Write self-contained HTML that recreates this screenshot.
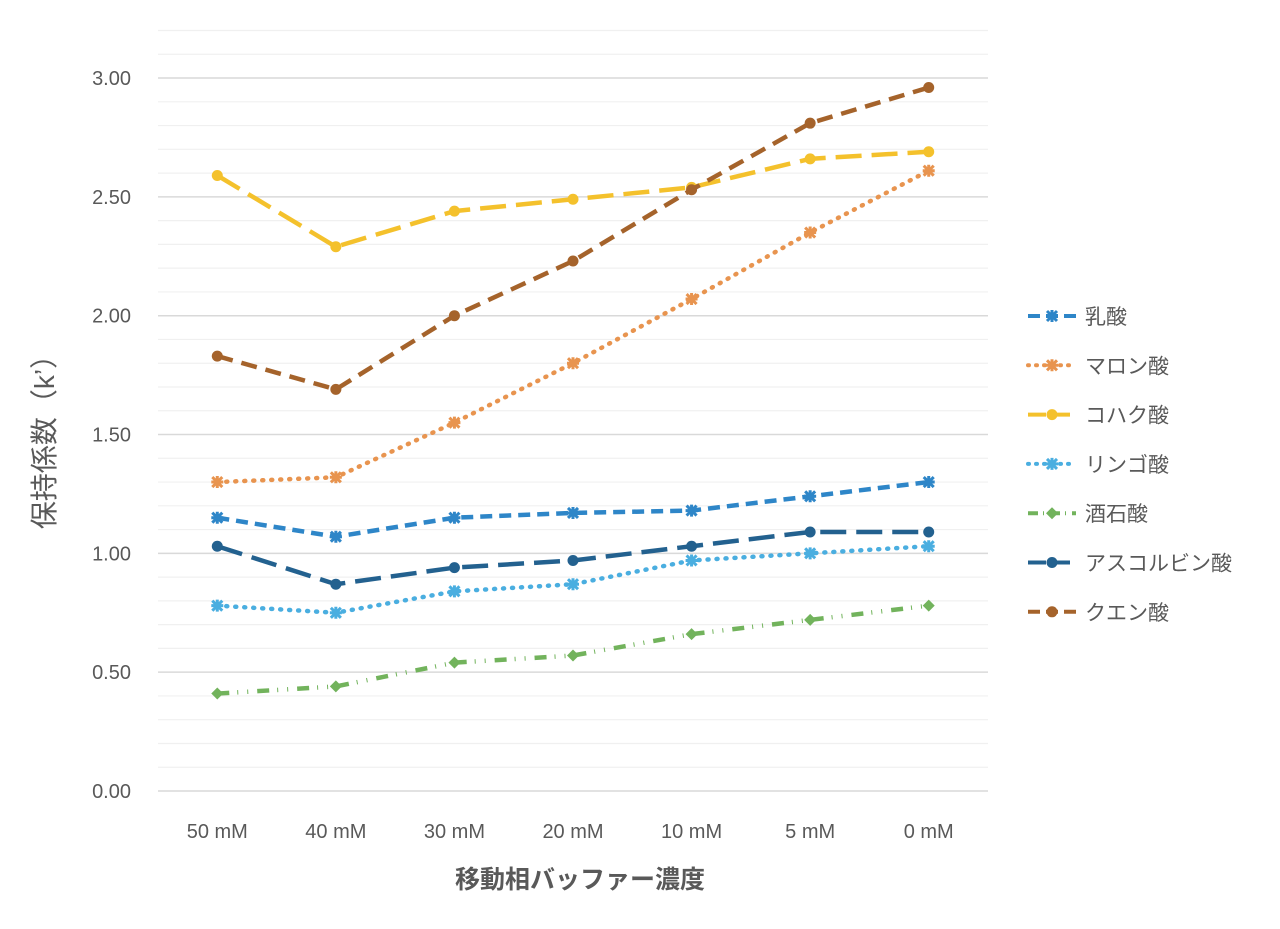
<!DOCTYPE html>
<html><head><meta charset="utf-8"><style>
body{margin:0;background:#fff}
svg{font-family:"Liberation Sans","Noto Sans CJK JP",sans-serif}
</style></head><body>
<svg id="chart" width="1280" height="924" viewBox="0 0 1280 924" xmlns="http://www.w3.org/2000/svg">
<g id="grid"></g>
<g id="yticks"></g>
<g id="xticks"></g>
<g id="series"></g>
<g id="legend"></g>
<text transform="translate(54,435) rotate(-90)" text-anchor="middle" font-size="28" fill="#595959">保持係数（k’）</text>
<text x="580" y="888" text-anchor="middle" font-size="25" font-weight="bold" fill="#595959">移動相バッファー濃度</text>
</svg>
<script>
const categories=["50 mM","40 mM","30 mM","20 mM","10 mM","5 mM","0 mM"];
const yTickLabels=["0.00","0.50","1.00","1.50","2.00","2.50","3.00"];
const seriesNames=["乳酸","マロン酸","コハク酸","リンゴ酸","酒石酸","アスコルビン酸","クエン酸"];
const lactic=[1.15,1.07,1.15,1.17,1.18,1.24,1.30];
const malonic=[1.30,1.32,1.55,1.80,2.07,2.35,2.61];
const succinic=[2.59,2.29,2.44,2.49,2.54,2.66,2.69];
const malic=[0.78,0.75,0.84,0.87,0.97,1.00,1.03];
const tartaric=[0.41,0.44,0.54,0.57,0.66,0.72,0.78];
const ascorbic=[1.03,0.87,0.94,0.97,1.03,1.09,1.09];
const citric=[1.83,1.69,2.00,2.23,2.53,2.81,2.96];
const allSeries=[lactic,malonic,succinic,malic,tartaric,ascorbic,citric];
const colors=["#2e86c8","#e8944f","#f4c12c","#4aaee0","#72b35c","#23618f","#a5632b"];
const dashes=["12,7","1,8","26,10","1,8","12,8,1,9,1,9","26,10","16,9"];
const markers=["star","star","circle","star","diamond","circle","circle"];
const NS="http://www.w3.org/2000/svg";
const x0=158,x1=988,yBase=791,yMax=3.2,yTop=30.5;
function xs(i){return x0+(x1-x0)*(i+0.5)/categories.length;}
function ys(v){return yBase-(yBase-yTop)*v/yMax;}
function mk(t,a,p){const e=document.createElementNS(NS,t);for(const k in a)e.setAttribute(k,a[k]);p.appendChild(e);return e;}
const grid=document.getElementById('grid');
for(let k=1;k<=32;k++){const v=k/10;const major=k%5===0;
 const l=mk('line',{x1:x0,x2:x1,y1:ys(v),y2:ys(v),stroke:major?'#d9d9d9':'#f0f0f0','stroke-width':major?1.5:1.2},grid);
 
 }
const ax=mk('line',{x1:x0,x2:x1,y1:yBase,y2:yBase,stroke:'#d9d9d9','stroke-width':1.5},grid);


const yt=document.getElementById('yticks');
yTickLabels.forEach((s,i)=>{const t=mk('text',{x:131,y:ys(parseFloat(s))+7,'text-anchor':'end','font-size':20,fill:'#595959'},yt);t.textContent=s;
 
 });
const xt=document.getElementById('xticks');
categories.forEach((s,i)=>{const t=mk('text',{x:xs(i),y:838,'text-anchor':'middle','font-size':20,fill:'#595959'},xt);t.textContent=s;
 
 });
function marker(type,cx,cy,c,p){let e;
 if(type==='circle')e=mk('circle',{cx:cx,cy:cy,r:5.5,fill:c},p);
 else if(type==='diamond')e=mk('path',{d:`M${cx},${cy-6}L${cx+6},${cy}L${cx},${cy+6}L${cx-6},${cy}Z`,fill:c},p);
 else e=mk('path',{d:`M${cx-5},${cy-5}L${cx+5},${cy+5}M${cx+5},${cy-5}L${cx-5},${cy+5}M${cx},${cy-6}L${cx},${cy+6}M${cx-6},${cy}L${cx+6},${cy}`,stroke:c,'stroke-width':3},p);
 return e;}
const sg=document.getElementById('series');
allSeries.forEach((d,si)=>{const g=mk('g',{},sg);
 
 
 const pts=d.map((v,i)=>xs(i)+','+ys(v)).join(' ');
 const pl=mk('polyline',{points:pts,fill:'none',stroke:colors[si],'stroke-width':4.5,'stroke-dasharray':dashes[si],'stroke-linecap':dashes[si].startsWith('1,')?'round':'butt'},g);
 
 
 d.forEach((v,i)=>{const m=marker(markers[si],xs(i),ys(v),colors[si],g);
  
  });});
const lg=document.getElementById('legend');
seriesNames.forEach((n,si)=>{const y=316+si*49.3;const g=mk('g',{},lg);
 
 
 mk('line',{x1:1028,x2:1076,y1:y,y2:y,stroke:colors[si],'stroke-width':4,'stroke-dasharray':dashes[si]==="26,10"?"18,6":dashes[si]==="12,8,1,9,1,9"?"10,5,1,6":dashes[si]==="16,9"?"12,6":dashes[si]==="12,7"?"12,6":"1,7",'stroke-linecap':dashes[si].startsWith('1,')?'round':'butt'},g);
 marker(markers[si],1052,y,colors[si],g);
 const t=mk('text',{x:1085,y:y+8,'font-size':21,fill:'#595959'},g);t.textContent=n;});
</script>
</body></html>
